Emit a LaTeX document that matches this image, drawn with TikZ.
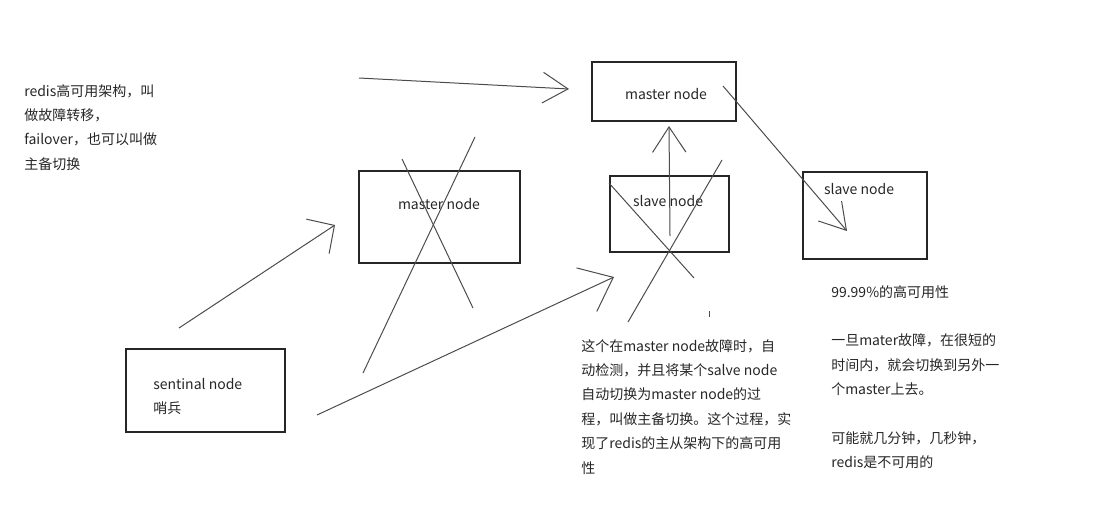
\documentclass[tikz,border=0pt]{standalone}
\usepackage{fontspec}
\setmainfont{Noto Sans CJK SC}
\usetikzlibrary{arrows.meta}

\tikzset{
  box/.style={draw=black!85, line width=0.8pt, inner sep=0pt},
  lbl/.style={font=\fontsize{10.5}{18.3}\selectfont, text=black!85, inner sep=0pt},
  note/.style={lbl, align=left, anchor=north west},
  stroke/.style={draw=black!70, line width=0.75pt},
  hand arrow/.style 2 args={stroke, -{Straight Barb[length=#1,width=#2]}}
}

\begin{document}
\begin{tikzpicture}[x=0.75pt, y=-0.75pt]
    \useasboundingbox (0,0) rectangle (1095,514);

    % Left note
    \node[note] (intro) at (24,84) {redis高可用架构，叫\\做故障转移，\\failover，也可以叫做\\主备切换};

    % Boxes
    \node[box, minimum width=108pt, minimum height=44.25pt] (master1) at (664,91.5) {};
    \node[lbl] (master1 text) at (666,94) {master node};
    \node[box, minimum width=120.75pt, minimum height=69pt] (master0) at (439.5,217) {};
    \node[lbl] (master0 text) at (439,204) {master node};
    \node[box, minimum width=89.25pt, minimum height=57pt] (slave1) at (669.5,214) {};
    \node[lbl] (slave1 text) at (668,201) {slave node};
    \node[box, minimum width=93pt, minimum height=65.25pt] (slave2) at (865,215.5) {};
    \node[lbl] (slave2 text) at (859,189) {slave node};
    \node[box, minimum width=119.25pt, minimum height=62.25pt] (sentinel) at (205.5,390.5) {};
    \node[note] (sentinel text) at (153,378) {sentinal node\\哨兵};

    % Arrows
    \coordinate (top s) at (359,78);
    \coordinate (top e) at (569,89);
    \draw[hand arrow={19pt}{23pt}] (top s) -- (top e);
    \coordinate (sen m s) at (179,328);
    \coordinate (sen m e) at (335,225);
    \draw[hand arrow={15pt}{31pt}] (sen m s) -- (sen m e);
    \coordinate (sen s s) at (317,415);
    \coordinate (sen s e) at (614,277);
    \draw[hand arrow={22pt}{36pt}] (sen s s) -- (sen s e);
    \coordinate (up s) at (670,236);
    \coordinate (up e) at (669,126);
    \draw[hand arrow={19pt}{25pt}] (up s) -- (up e);
    \coordinate (down s) at (723,86);
    \coordinate (down e) at (847,231);
    \draw[hand arrow={19pt}{23pt}] (down s) -- (down e);

    % Crosses
    \coordinate (xa1) at (475,137);
    \coordinate (xa2) at (363,373);
    \coordinate (xb1) at (402,159);
    \coordinate (xb2) at (473,308);
    \draw[stroke] (xa1) -- (xa2);
    \draw[stroke] (xb1) -- (xb2);
    \coordinate (xc1) at (609,183);
    \coordinate (xc2) at (694,278);
    \coordinate (xd1) at (722,160);
    \coordinate (xd2) at (628,322);
    \draw[stroke] (xc1) -- (xc2);
    \draw[stroke] (xd1) -- (xd2);
    \coordinate (tick1) at (709,311);
    \coordinate (tick2) at (709,317);
    \draw[stroke] (tick1) -- (tick2);

    % Notes
    \node[note] (failover) at (581,339) {这个在master node故障时，自\\动检测，并且将某个salve node\\自动切换为master node的过\\程，叫做主备切换。这个过程，实\\现了redis的主从架构下的高可用\\性};
    \node[note] (avail) at (831,285) {99.99\%的高可用性\\ \mbox{}\\一旦mater故障，在很短的\\时间内，就会切换到另外一\\个master上去。\\ \mbox{}\\可能就几分钟，几秒钟，\\redis是不可用的};
\end{tikzpicture}
\end{document}
